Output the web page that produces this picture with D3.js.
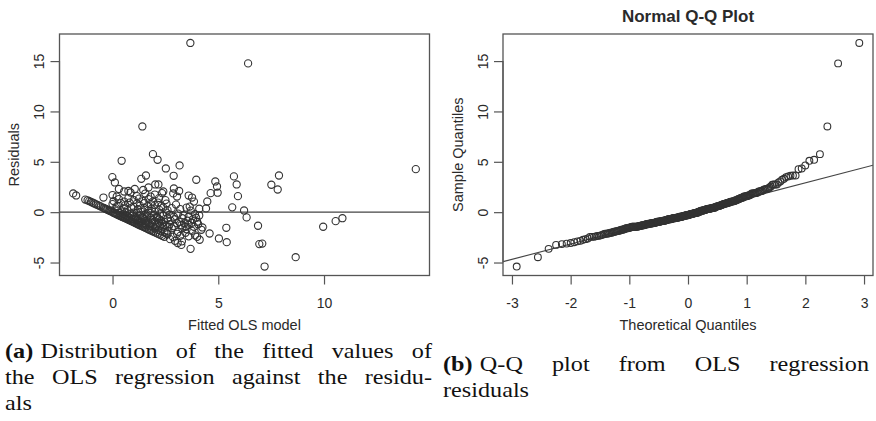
<!DOCTYPE html>
<html>
<head>
<meta charset="utf-8">
<script src="https://cdn.jsdelivr.net/npm/d3@7"></script>
<style>
  body { margin: 0; background: #fff; }
  svg { display: block; }
  .plot text { font-family: "Liberation Sans", Arial, sans-serif; fill: #2a2a2a; }
  .caption text { font-family: "Liberation Serif", "Times New Roman", serif; fill: #111; }
</style>
</head>
<body>
<svg id="fig" width="876" height="421"></svg>
<script>
// OLS model: fitted values and their residuals (one entry per observation, grouped by residual size)
const fittedValues = [
  7.19, 8.66, 3.69, 3.25, 6.94, 7.08, 3.08,
  5.40, 3.28, 2.95, 4.12, 2.72, 5.03,
  2.05, 2.15, 2.25, 2.35, 2.45, 3.20, 3.05, 4.59, 3.60, 3.90, 2.60, 3.45, 2.85, 2.55, 4.00,
  1.55, 1.65, 1.72, 1.80, 1.88, 1.95, 2.00, 2.15, 2.30, 2.45, 4.25, 5.38, 3.50, 3.75, 2.80, 3.10, 2.60, 3.30, 4.20,
  1.02, 1.08, 1.14, 1.20, 1.26, 1.32, 1.38, 1.44, 1.50,
  1.30, 1.45, 1.60, 1.75, 1.90, 1.55,
  2.10, 2.25, 2.40, 2.20, 2.50,
  6.88, 9.96, 2.70, 2.90, 3.05, 3.25, 3.60, 3.85, 3.75, 2.65, 3.45, 1.85, 2.05, 1.70, 2.35, 3.40, 4.05,
  0.52, 0.57, 0.62, 0.67, 0.72, 0.77, 0.82, 0.87, 0.92, 0.97,
  0.80, 0.95, 1.05, 1.15, 1.25, 1.35, 1.10, 1.20,
  1.50, 1.60, 1.70, 1.80, 1.90, 2.00, 2.10, 2.20, 2.30, 2.45,
  10.55, 10.87, 6.34, 2.60, 2.75, 2.95, 3.15, 3.30, 3.55, 3.80, 4.00, 3.95, 1.45,
  0.03, 0.08, 0.13, 0.18, 0.23, 0.28, 0.33, 0.38, 0.43, 0.48,
  0.35, 0.50, 0.60, 0.70, 0.85, 0.95, 1.05, 1.15, 1.30, 1.40, 1.55, 1.65, 1.80, 1.95, 2.10, 2.25, 2.40, 2.55, 2.70, 2.90, 3.10, 3.35, 3.60, 3.90, 4.10, 0.60, 1.00,
  -0.05, -0.10, -0.15, -0.20, -0.25, -0.30, -0.35, -0.40, -0.45,
  0.10, 0.25, 0.45, 0.55, 0.70, 0.90, 1.20, 1.35, 1.50, 1.70, 1.85, 2.00, 2.20, 2.40, 2.60, 2.80, 3.20, 3.50, 3.70, 4.10, 4.42, 5.66, 6.22,
  -0.55, -0.62, -0.70, -0.78, -0.86, -0.94,
  0.00, 0.20, 0.40, 0.60, 0.80, 1.00, 1.15, 1.30, 1.50, 1.65, 1.80, 2.00, 2.15, 2.30, 2.55, 3.00, 3.65,
  -1.02, -1.10, -1.18, -1.29,
  -0.43, 4.48, 3.76, 0.05, 0.30, 0.55, 0.75, 1.00, 1.25, 1.45, 1.70, 1.90, 2.20, 2.50, 3.85,
  -1.86, -1.72, 5.93, 4.97, 4.64, 0.00, 0.20, 0.85, 1.15, 1.55, 1.80, 2.00, 2.34, 2.87, 3.05, 3.60,
  7.81, 0.55, 0.75, 1.05, 1.45, 1.70, 2.40, 2.90, 3.15, 0.30,
  5.87, 7.51, 4.94, 0.11, 2.02, 2.17,
  4.86, 3.96, 1.36, -0.01,
  1.58, 5.74, 7.87, 2.89,
  3.17, 2.52, 14.34,
  0.43, 1.91, 2.13, 1.41, 6.41, 3.68
];

const residualValues = [
  -5.40, -4.47, -3.64, -3.25, -3.17, -3.12, -3.06,
  -2.98, -2.90, -2.85, -2.74, -2.68, -2.61,
  -2.05, -2.15, -2.25, -2.35, -2.45, -2.35, -2.15, -2.12, -2.40, -2.30, -2.20, -2.05, -2.45, -2.10, -2.45,
  -1.55, -1.65, -1.72, -1.80, -1.88, -1.95, -1.60, -1.75, -1.90, -2.00, -1.52, -1.55, -1.70, -1.85, -1.60, -1.95, -1.85, -1.60, -1.75,
  -1.02, -1.08, -1.14, -1.20, -1.26, -1.32, -1.38, -1.44, -1.49,
  -1.05, -1.15, -1.30, -1.40, -1.45, -1.10,
  -1.20, -1.35, -1.45, -1.05, -1.30,
  -1.35, -1.45, -1.20, -1.40, -1.10, -1.30, -1.25, -1.45, -1.05, -1.45, -1.45, -1.10, -1.45, -1.15, -1.15, -1.10, -1.20,
  -0.52, -0.57, -0.62, -0.67, -0.72, -0.77, -0.82, -0.87, -0.92, -0.97,
  -0.55, -0.65, -0.75, -0.80, -0.90, -0.95, -0.60, -0.70,
  -0.70, -0.85, -0.95, -0.60, -0.75, -0.90, -0.55, -0.70, -0.85, -0.95,
  -0.89, -0.60, -0.52, -0.60, -0.85, -0.70, -0.95, -0.60, -0.85, -0.70, -0.95, -0.55, -0.55,
  -0.03, -0.08, -0.13, -0.18, -0.23, -0.28, -0.33, -0.38, -0.43, -0.48,
  -0.10, -0.20, -0.30, -0.40, -0.15, -0.35, -0.45, -0.10, -0.30, -0.45, -0.20, -0.40, -0.10, -0.30, -0.45, -0.15, -0.35, -0.05, -0.25, -0.45, -0.15, -0.30, -0.45, -0.20, -0.33, -0.05, -0.05,
  0.05, 0.10, 0.15, 0.20, 0.25, 0.30, 0.35, 0.40, 0.45,
  0.30, 0.15, 0.05, 0.35, 0.20, 0.45, 0.30, 0.05, 0.40, 0.15, 0.35, 0.05, 0.25, 0.45, 0.20, 0.40, 0.30, 0.45, 0.15, 0.34, 0.37, 0.48, 0.17,
  0.55, 0.62, 0.70, 0.78, 0.86, 0.94,
  0.80, 0.60, 0.90, 0.70, 0.95, 0.55, 0.85, 0.65, 0.90, 0.60, 0.80, 0.70, 0.95, 0.60, 0.85, 0.75, 0.55,
  1.02, 1.10, 1.18, 1.25,
  1.45, 1.06, 1.45, 1.10, 1.30, 1.05, 1.40, 1.20, 1.35, 1.10, 1.30, 1.05, 1.40, 1.20, 1.05,
  1.86, 1.66, 1.59, 1.93, 1.89, 1.70, 1.55, 1.95, 1.60, 1.85, 1.55, 1.75, 1.89, 1.86, 1.55, 1.65,
  2.25, 2.05, 2.10, 2.30, 2.20, 2.45, 2.05, 2.35, 2.10, 2.30,
  2.75, 2.72, 2.55, 2.95, 2.75, 2.75,
  3.05, 3.22, 3.31, 3.48,
  3.64, 3.55, 3.64, 3.61,
  4.64, 4.34, 4.27,
  5.10, 5.76, 5.20, 8.51, 14.77, 16.80
];

// Tick labels of both panels
const fittedTicks = [0, 5, 10];
const residualTicks = [-5, 0, 5, 10, 15];
const theoreticalTicks = [-3, -2, -1, 0, 1, 2, 3];

// Axis and panel titles
const leftXTitle = "Fitted OLS model";
const leftYTitle = "Residuals";
const rightTitle = "Normal Q-Q Plot";
const rightXTitle = "Theoretical Quantiles";
const rightYTitle = "Sample Quantiles";

if (fittedValues.length !== residualValues.length) {
  throw new Error("fitted/residual length mismatch: " + fittedValues.length + " vs " + residualValues.length);
}

// Inverse of the standard normal CDF (Acklam's rational approximation)
function qnorm(p) {
  const a = [-3.969683028665376e+01, 2.209460984245205e+02, -2.759285104469687e+02, 1.383577518672690e+02, -3.066479806614716e+01, 2.506628277459239e+00];
  const b = [-5.447609879822406e+01, 1.615858368580409e+02, -1.556989798598866e+02, 6.680131188771972e+01, -1.328068155288572e+01];
  const c = [-7.784894002430293e-03, -3.223964580411365e-01, -2.400758277161838e+00, -2.549732539343734e+00, 4.374664141464968e+00, 2.938163982698783e+00];
  const d = [7.784695709041462e-03, 3.224671290700398e-01, 2.445134137142996e+00, 3.754408661907416e+00];
  const pl = 0.02425, ph = 1 - pl;
  let q, r;
  if (p < pl) {
    q = Math.sqrt(-2 * Math.log(p));
    return (((((c[0]*q+c[1])*q+c[2])*q+c[3])*q+c[4])*q+c[5]) / ((((d[0]*q+d[1])*q+d[2])*q+d[3])*q+1);
  }
  if (p > ph) {
    q = Math.sqrt(-2 * Math.log(1 - p));
    return -(((((c[0]*q+c[1])*q+c[2])*q+c[3])*q+c[4])*q+c[5]) / ((((d[0]*q+d[1])*q+d[2])*q+d[3])*q+1);
  }
  q = p - 0.5; r = q * q;
  return (((((a[0]*r+a[1])*r+a[2])*r+a[3])*r+a[4])*r+a[5])*q / (((((b[0]*r+b[1])*r+b[2])*r+b[3])*r+b[4])*r+1);
}

// Axis range padded by 4% on each side
function padded(values) {
  const [lo, hi] = d3.extent(values);
  const pad = (hi - lo) * 0.04;
  return [lo - pad, hi + pad];
}

const svg = d3.select("#fig");
const boxColor = "#555";
const pointColor = "#333";

const plotTop = 34, plotBottom = 275.5;
const leftPanel = { x0: 59.5, x1: 429.5 };
const rightPanel = { x0: 503, x1: 873 };

function styleAxis(g) {
  g.select(".domain").remove();
  g.selectAll(".tick line").attr("stroke", boxColor).attr("stroke-width", 1.2);
  g.selectAll(".tick text").attr("font-size", 14).attr("fill", "#2a2a2a")
    .attr("font-family", "'Liberation Sans', Arial, sans-serif");
}

function bottomAxis(g, scale, ticks) {
  g.call(d3.axisBottom(scale).tickValues(ticks).tickSize(9).tickSizeOuter(0).tickPadding(14));
  styleAxis(g);
  g.append("line")
    .attr("x1", scale(ticks[0])).attr("x2", scale(ticks[ticks.length - 1]))
    .attr("stroke", boxColor).attr("stroke-width", 1.2);
  g.selectAll(".tick text").text(d => d < 0 ? "-" + Math.abs(d) : d);
}

function leftAxis(g, scale, ticks) {
  g.call(d3.axisLeft(scale).tickValues(ticks).tickSize(9).tickSizeOuter(0));
  styleAxis(g);
  g.append("line")
    .attr("y1", scale(ticks[0])).attr("y2", scale(ticks[ticks.length - 1]))
    .attr("stroke", boxColor).attr("stroke-width", 1.2);
  g.selectAll(".tick text")
    .text(d => d < 0 ? "-" + Math.abs(d) : d)
    .attr("transform", "rotate(-90)")
    .attr("x", 0).attr("y", -15.5).attr("dy", null)
    .attr("text-anchor", "middle");
}

// ---------- (a) residuals against fitted values ----------
const gA = svg.append("g").attr("class", "plot");
const xA = d3.scaleLinear().domain(padded(fittedValues)).range([leftPanel.x0, leftPanel.x1]);
const yA = d3.scaleLinear().domain(padded(residualValues)).range([plotBottom, plotTop]);

gA.append("line")
  .attr("x1", leftPanel.x0).attr("x2", leftPanel.x1)
  .attr("y1", yA(0)).attr("y2", yA(0))
  .attr("stroke", "#444").attr("stroke-width", 1.2);

gA.append("g").selectAll("circle")
  .data(d3.zip(fittedValues, residualValues))
  .join("circle")
  .attr("cx", d => xA(d[0]))
  .attr("cy", d => yA(d[1]))
  .attr("r", 3.6)
  .attr("fill", "none")
  .attr("stroke", pointColor)
  .attr("stroke-width", 1.1);

gA.append("g").attr("transform", `translate(0,${plotBottom})`).call(bottomAxis, xA, fittedTicks);
gA.append("g").attr("transform", `translate(${leftPanel.x0},0)`).call(leftAxis, yA, residualTicks);

gA.append("rect")
  .attr("x", leftPanel.x0).attr("y", plotTop)
  .attr("width", leftPanel.x1 - leftPanel.x0).attr("height", plotBottom - plotTop)
  .attr("fill", "none").attr("stroke", boxColor).attr("stroke-width", 1.3);

gA.append("text")
  .attr("x", (leftPanel.x0 + leftPanel.x1) / 2).attr("y", 329.5)
  .attr("text-anchor", "middle").attr("font-size", 14.5)
  .text(leftXTitle);

gA.append("text")
  .attr("transform", `translate(18.5,${(plotTop + plotBottom) / 2}) rotate(-90)`)
  .attr("text-anchor", "middle").attr("font-size", 14.5)
  .text(leftYTitle);

// ---------- (b) normal Q-Q plot of the residuals ----------
const gB = svg.append("g").attr("class", "plot");
const sorted = residualValues.slice().sort(d3.ascending);
const n = sorted.length;
const theoretical = sorted.map((_, i) => qnorm((i + 1 - 0.5) / n));

const xB = d3.scaleLinear().domain(padded(theoretical)).range([rightPanel.x0, rightPanel.x1]);
const yB = d3.scaleLinear().domain(padded(sorted)).range([plotBottom, plotTop]);

gB.append("clipPath").attr("id", "clipB").append("rect")
  .attr("x", rightPanel.x0).attr("y", plotTop)
  .attr("width", rightPanel.x1 - rightPanel.x0).attr("height", plotBottom - plotTop);

// reference line through the first and third quartiles
const probs = [0.25, 0.75];
const qy = probs.map(p => d3.quantile(sorted, p));
const qx = probs.map(qnorm);
const slope = (qy[1] - qy[0]) / (qx[1] - qx[0]);
const intercept = qy[0] - slope * qx[0];
const [lx0, lx1] = xB.domain();

gB.append("line")
  .attr("clip-path", "url(#clipB)")
  .attr("x1", xB(lx0)).attr("y1", yB(intercept + slope * lx0))
  .attr("x2", xB(lx1)).attr("y2", yB(intercept + slope * lx1))
  .attr("stroke", "#444").attr("stroke-width", 1.1);

gB.append("g").selectAll("circle")
  .data(d3.zip(theoretical, sorted))
  .join("circle")
  .attr("cx", d => xB(d[0]))
  .attr("cy", d => yB(d[1]))
  .attr("r", 3.4)
  .attr("fill", "none")
  .attr("stroke", pointColor)
  .attr("stroke-width", 1.1);

gB.append("g").attr("transform", `translate(0,${plotBottom})`).call(bottomAxis, xB, theoreticalTicks);
gB.append("g").attr("transform", `translate(${rightPanel.x0},0)`).call(leftAxis, yB, residualTicks);

gB.append("rect")
  .attr("x", rightPanel.x0).attr("y", plotTop)
  .attr("width", rightPanel.x1 - rightPanel.x0).attr("height", plotBottom - plotTop)
  .attr("fill", "none").attr("stroke", boxColor).attr("stroke-width", 1.3);

gB.append("text")
  .attr("x", (rightPanel.x0 + rightPanel.x1) / 2).attr("y", 22)
  .attr("text-anchor", "middle").attr("font-size", 17).attr("font-weight", "bold")
  .attr("fill", "#111")
  .text(rightTitle);

gB.append("text")
  .attr("x", (rightPanel.x0 + rightPanel.x1) / 2).attr("y", 329.5)
  .attr("text-anchor", "middle").attr("font-size", 14.5)
  .text(rightXTitle);

gB.append("text")
  .attr("transform", `translate(462.5,${(plotTop + plotBottom) / 2}) rotate(-90)`)
  .attr("text-anchor", "middle").attr("font-size", 14.5)
  .text(rightYTitle);

// ---------- sub-figure captions (justified lines) ----------
const cap = svg.append("g").attr("class", "caption").attr("font-size", 22);
const widen = 1.1;      // book-face glyphs run a little wider than Times
const wordGap = 7.3;

function setLine(words, x0, width, y, justify) {
  const nodes = words.map(w => cap.append("text")
    .attr("y", y)
    .attr("font-weight", w.bold ? "bold" : null)
    .text(w.t));
  const widths = nodes.map(nd => {
    const w = nd.node().getComputedTextLength() * widen;
    nd.attr("textLength", w).attr("lengthAdjust", "spacingAndGlyphs");
    return w;
  });
  // the gap after the bold label keeps its natural width; the others stretch
  const fixed = words[0].bold ? 1 : 0;
  const stretchGaps = words.length - 1 - fixed;
  let gap = wordGap;
  if (justify && stretchGaps > 0) {
    gap = (width - d3.sum(widths) - fixed * wordGap) / stretchGaps;
  }
  let x = x0;
  nodes.forEach((nd, i) => {
    nd.attr("x", x);
    x += widths[i] + (i === 0 && fixed ? wordGap : gap);
  });
}

const W = t => ({ t });
const B = t => ({ t, bold: true });

setLine([B("(a)"), W("Distribution"), W("of"), W("the"), W("fitted"), W("values"), W("of")], 5, 427, 358, true);
setLine([W("the"), W("OLS"), W("regression"), W("against"), W("the"), W("residu-")], 5, 427, 384, true);
setLine([W("als")], 5, 427, 410, false);
setLine([B("(b)"), W("Q-Q"), W("plot"), W("from"), W("OLS"), W("regression")], 443, 426, 371, true);
setLine([W("residuals")], 443, 426, 397, false);
</script>
</body>
</html>
